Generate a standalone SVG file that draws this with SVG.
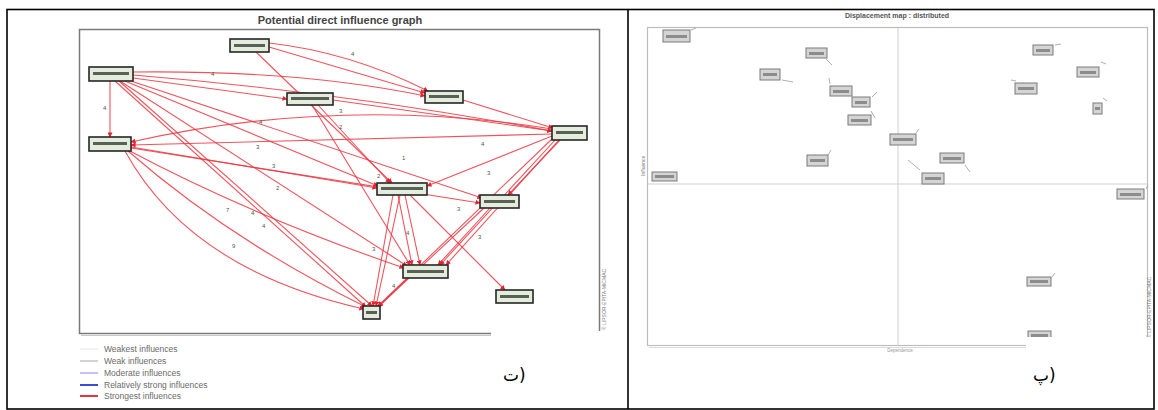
<svg xmlns="http://www.w3.org/2000/svg" width="1158" height="410" viewBox="0 0 1158 410">
<defs>
<marker id="ah" viewBox="0 0 6 6" refX="5.5" refY="3" markerWidth="5" markerHeight="5" orient="auto" markerUnits="userSpaceOnUse">
<path d="M0,0 L6,3 L0,6 z" fill="#e8202c"/>
</marker>
<style>
.e{fill:none;stroke:#ec3540;stroke-width:1.1;stroke-opacity:0.85;marker-end:url(#ah)}
.el{font-family:"Liberation Sans",Arial,sans-serif;font-size:6px;fill:#4a5a48}
.ln{fill:#e4ecdc;stroke:#262626;stroke-width:1.6}
.lt{fill:#5a5f58}
.rn{fill:#d4d4d4;stroke:#7a7a7a;stroke-width:1}
.rt{fill:#8c8c8c}
.tk{fill:none;stroke:#9a9a9a;stroke-width:0.8}
.lg{font-family:"Liberation Sans",Arial,sans-serif;font-size:8.5px;fill:#6a6a6a}
.vt{font-family:"Liberation Sans",Arial,sans-serif;font-size:5px;fill:#777}
.tag{font-family:"DejaVu Sans",sans-serif;font-size:17px;fill:#000}
</style>
</defs>
<rect x="0" y="0" width="1158" height="410" fill="#fff"/>

<!-- table borders -->
<g id="table" fill="none" stroke="#000" stroke-width="1.6">
<rect x="7" y="9.5" width="1147" height="399.5"/>
<line x1="628" y1="9.5" x2="628" y2="409"/>
</g>

<!-- LEFT PANEL -->
<g id="left-panel">
<text x="340" y="24" text-anchor="middle" font-family="Liberation Sans, Arial, sans-serif" font-size="11" font-weight="bold" fill="#444">Potential direct influence graph</text>
<rect x="79.5" y="29.5" width="520" height="304" fill="#fff" stroke="#7a7a7a" stroke-width="1.5"/>
<line x1="81" y1="335.5" x2="601" y2="335.5" stroke="#c8c8c8" stroke-width="1"/>
<text class="vt" transform="translate(606,330) rotate(-90)">© LIPSOR-EPITA-MICMAC</text>
</g>

<g id="connectors">
<path class="e" d="M269,43 Q350,52 428,91"/>
<path class="e" d="M269,47 L425,93"/>
<path class="e" d="M256,52 L392,183"/>
<path class="e" d="M463,100 L553,128"/>
<path class="e" d="M133,72 Q300,70 425,96"/>
<path class="e" d="M133,75 Q340,92 552,131"/>
<path class="e" d="M133,78 L287,99"/>
<path class="e" d="M110,81 L110,137"/>
<path class="e" d="M125,81 L378,186"/>
<path class="e" d="M128,80 L482,198"/>
<path class="e" d="M120,81 L407,266"/>
<path class="e" d="M115,81 L366,307"/>
<path class="e" d="M119,81 L372,306"/>
<path class="e" d="M552,129 Q340,95 131,142"/>
<path class="e" d="M552,134 L131,145"/>
<path class="e" d="M131,147 L377,188"/>
<path class="e" d="M131,148 L480,203"/>
<path class="e" d="M128,150 Q250,215 404,268"/>
<path class="e" d="M125,151 Q190,270 364,309"/>
<path class="e" d="M128,151 Q230,240 366,307"/>
<path class="e" d="M552,136 L427,186"/>
<path class="e" d="M560,140 L508,195"/>
<path class="e" d="M556,139 L440,265"/>
<path class="e" d="M559,140 L446,265"/>
<path class="e" d="M553,138 L378,306"/>
<path class="e" d="M333,100 L552,131"/>
<path class="e" d="M318,105 L390,183"/>
<path class="e" d="M312,105 L410,265"/>
<path class="e" d="M398,195 L412,265"/>
<path class="e" d="M405,195 L420,265"/>
<path class="e" d="M393,195 L373,306"/>
<path class="e" d="M400,195 L376,306"/>
<path class="e" d="M410,195 L505,290"/>
<path class="e" d="M484,208 L378,307"/>
<path class="e" d="M490,208 L438,265"/>
<path class="e" d="M408,278 L378,307"/>
</g>

<g id="edge-labels">
<text class="el" x="351" y="56">4</text>
<text class="el" x="211" y="76">4</text>
<text class="el" x="103" y="110">4</text>
<text class="el" x="259" y="124">4</text>
<text class="el" x="256" y="149">3</text>
<text class="el" x="272" y="168">3</text>
<text class="el" x="276" y="190">2</text>
<text class="el" x="481" y="146">4</text>
<text class="el" x="402" y="160">1</text>
<text class="el" x="487" y="175">3</text>
<text class="el" x="339" y="113">3</text>
<text class="el" x="339" y="129">2</text>
<text class="el" x="226" y="212">7</text>
<text class="el" x="251" y="215">4</text>
<text class="el" x="262" y="228">4</text>
<text class="el" x="232" y="248">9</text>
<text class="el" x="457" y="211">3</text>
<text class="el" x="478" y="239">3</text>
<text class="el" x="406" y="235">4</text>
<text class="el" x="372" y="251">3</text>
<text class="el" x="392" y="288">4</text>
<text class="el" x="377" y="178">2</text>
</g>

<g id="nA"><rect class="ln" x="230" y="39" width="39" height="13"/><rect class="lt" x="234" y="44" width="31" height="3"/></g>
<g id="nB"><rect class="ln" x="89" y="67" width="44" height="14"/><rect class="lt" x="93" y="72" width="36" height="3"/></g>
<g id="nC"><rect class="ln" x="89" y="137" width="42" height="14"/><rect class="lt" x="93" y="142" width="34" height="3"/></g>
<g id="nD"><rect class="ln" x="287" y="93" width="46" height="12"/><rect class="lt" x="291" y="97" width="38" height="3"/></g>
<g id="nE"><rect class="ln" x="425" y="91" width="38" height="12"/><rect class="lt" x="429" y="95" width="30" height="3"/></g>
<g id="nF"><rect class="ln" x="552" y="126" width="35" height="14"/><rect class="lt" x="556" y="131" width="27" height="3"/></g>
<g id="nG"><rect class="ln" x="377" y="183" width="50" height="12"/><rect class="lt" x="381" y="187" width="42" height="3"/></g>
<g id="nH"><rect class="ln" x="480" y="195" width="39" height="13"/><rect class="lt" x="484" y="200" width="31" height="3"/></g>
<g id="nI"><rect class="ln" x="403" y="265" width="45" height="13"/><rect class="lt" x="407" y="270" width="37" height="3"/></g>
<g id="nJ"><rect class="ln" x="496" y="290" width="37" height="13"/><rect class="lt" x="500" y="295" width="29" height="3"/></g>
<g id="nK"><rect class="ln" x="363" y="306" width="17" height="13"/><rect class="lt" x="366" y="311" width="11" height="3"/></g>

<g id="legend">
<line x1="80" y1="349" x2="98" y2="349" stroke="#e4e4e4" stroke-width="1"/>
<line x1="80" y1="361" x2="98" y2="361" stroke="#a8a8a8" stroke-width="1"/>
<line x1="80" y1="373" x2="98" y2="373" stroke="#b8a8f4" stroke-width="1.5"/>
<line x1="80" y1="385" x2="98" y2="385" stroke="#3c4cd0" stroke-width="2"/>
<line x1="80" y1="396" x2="98" y2="396" stroke="#e8343c" stroke-width="2"/>
<text class="lg" x="104" y="352">Weakest influences</text>
<text class="lg" x="104" y="364">Weak influences</text>
<text class="lg" x="104" y="376">Moderate influences</text>
<text class="lg" x="104" y="388">Relatively strong influences</text>
<text class="lg" x="104" y="399">Strongest influences</text>
</g>

<rect x="491" y="331" width="112" height="62" fill="#fff"/>
<text class="tag" x="503" y="381">ت)</text>

<!-- RIGHT PANEL -->
<g id="right-panel">
<text x="897" y="18" text-anchor="middle" font-family="Liberation Sans, Arial, sans-serif" font-size="7" font-weight="bold" fill="#555">Displacement map : distributed</text>
<rect x="647.5" y="27.5" width="500" height="318" fill="#fff" stroke="#bdbdbd" stroke-width="1.2"/>
<line x1="649" y1="347.5" x2="1149" y2="347.5" stroke="#dcdcdc" stroke-width="1"/>
<line x1="898" y1="28" x2="898" y2="345" stroke="#cfcfcf" stroke-width="1"/>
<line x1="648" y1="184" x2="1147" y2="184" stroke="#cfcfcf" stroke-width="1"/>
<text x="900" y="352" text-anchor="middle" font-family="Liberation Sans, Arial, sans-serif" font-size="4.5" fill="#999">Dependence</text>
<text class="vt" transform="translate(645,176) rotate(-90)" fill="#999">Influence</text>
<text class="vt" transform="translate(1151,338) rotate(-90)">© LIPSOR-EPITA-MICMAC</text>
</g>

<g id="r1"><rect class="rn" x="663" y="30" width="27" height="12"/><rect class="rt" x="666" y="35" width="21" height="3"/><path class="tk" d="M691,30 L696,28"/></g>
<g id="r2"><rect class="rn" x="806" y="48" width="21" height="10"/><rect class="rt" x="809" y="52" width="15" height="3"/><path class="tk" d="M826,59 L832,65"/></g>
<g id="r3"><rect class="rn" x="760" y="69" width="20" height="11"/><rect class="rt" x="763" y="73" width="14" height="3"/><path class="tk" d="M782,80 L793,82"/></g>
<g id="r4"><rect class="rn" x="830" y="86" width="22" height="10"/><rect class="rt" x="833" y="90" width="16" height="3"/><path class="tk" d="M829,78 L830,84"/></g>
<g id="r5"><rect class="rn" x="852" y="97" width="18" height="10"/><rect class="rt" x="855" y="101" width="12" height="3"/><path class="tk" d="M872,97 L877,92"/></g>
<g id="r6"><rect class="rn" x="848" y="115" width="23" height="10"/><rect class="rt" x="851" y="119" width="17" height="3"/><path class="tk" d="M871,111 L875,118"/></g>
<g id="r7"><rect class="rn" x="807" y="155" width="21" height="11"/><rect class="rt" x="810" y="159" width="15" height="3"/><path class="tk" d="M828,155 L831,150"/></g>
<g id="r8"><rect class="rn" x="652" y="172" width="25" height="9"/><rect class="rt" x="655" y="175" width="19" height="3"/></g>
<g id="r9"><rect class="rn" x="890" y="134" width="26" height="11"/><rect class="rt" x="893" y="138" width="20" height="3"/><path class="tk" d="M916,133 L919,129"/></g>
<g id="r10"><rect class="rn" x="1033" y="45" width="20" height="10"/><rect class="rt" x="1036" y="49" width="14" height="3"/><path class="tk" d="M1055,45 L1061,44"/></g>
<g id="r11"><rect class="rn" x="1077" y="67" width="22" height="10"/><rect class="rt" x="1080" y="71" width="16" height="3"/><path class="tk" d="M1101,62 L1106,64"/></g>
<g id="r12"><rect class="rn" x="1015" y="83" width="22" height="11"/><rect class="rt" x="1018" y="87" width="16" height="3"/><path class="tk" d="M1011,80 L1016,81"/></g>
<g id="r13"><rect class="rn" x="1093" y="103" width="9" height="11"/><rect class="rt" x="1095" y="107" width="5" height="3"/><path class="tk" d="M1103,98 L1107,101"/></g>
<g id="r14"><rect class="rn" x="940" y="153" width="24" height="10"/><rect class="rt" x="943" y="157" width="18" height="3"/><path class="tk" d="M965,165 L970,172"/></g>
<g id="r15"><rect class="rn" x="922" y="173" width="22" height="11"/><rect class="rt" x="925" y="177" width="16" height="3"/><path class="tk" d="M908,160 L920,170"/></g>
<g id="r16"><rect class="rn" x="1117" y="189" width="27" height="10"/><rect class="rt" x="1120" y="193" width="21" height="3"/><path class="tk" d="M1146,189 L1148,185"/></g>
<g id="r17"><rect class="rn" x="1027" y="277" width="24" height="9"/><rect class="rt" x="1030" y="280" width="18" height="3"/><path class="tk" d="M1052,277 L1055,273"/></g>
<g id="r18"><rect class="rn" x="1028" y="331" width="23" height="10"/><rect class="rt" x="1031" y="334" width="17" height="3"/></g>

<rect x="1026" y="337" width="124" height="58" fill="#fff"/>
<text class="tag" x="1033" y="381">پ)</text>
</svg>
